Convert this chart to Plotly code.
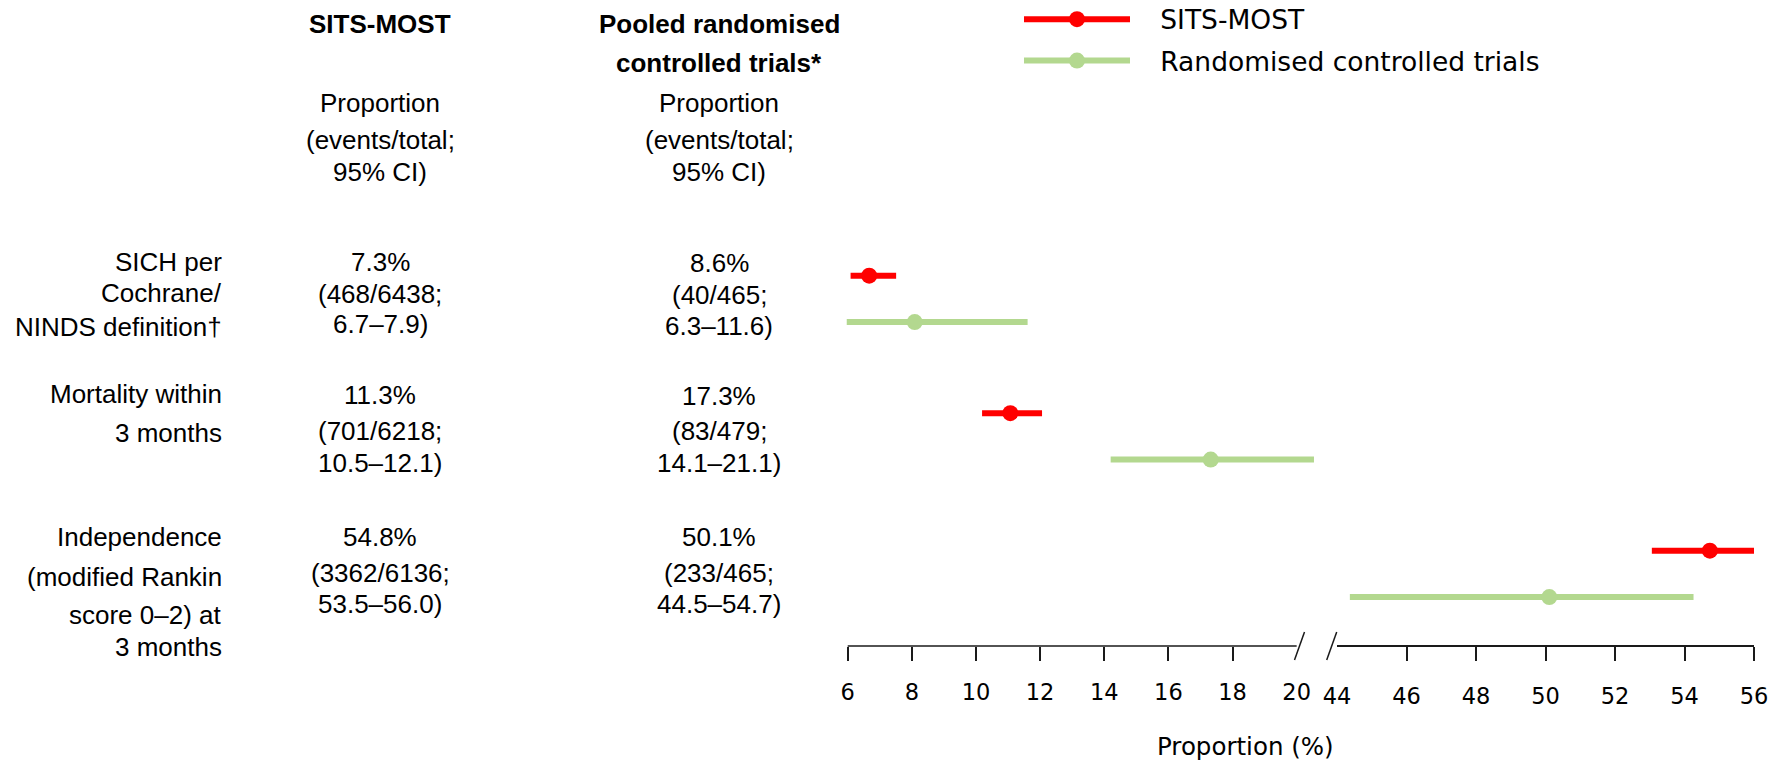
import plotly.graph_objects as go

W, H = 1782, 762

# ---------------- data ----------------
row_labels = [
    ["SICH per", "Cochrane/", "NINDS definition†"],
    ["Mortality within", "3 months"],
    ["Independence", "(modified Rankin", "score 0–2) at", "3 months"],
]
sits_pct = ["7.3%", "11.3%", "54.8%"]
sits_counts = ["(468/6438;", "(701/6218;", "(3362/6136;"]
sits_ci_text = ["6.7–7.9)", "10.5–12.1)", "53.5–56.0)"]
rct_pct = ["8.6%", "17.3%", "50.1%"]
rct_counts = ["(40/465;", "(83/479;", "(233/465;"]
rct_ci_text = ["6.3–11.6)", "14.1–21.1)", "44.5–54.7)"]

# values as drawn in the figure (point estimate and 95% CI, %)
sits_est = [6.67, 11.07, 54.73]
sits_lo = [6.09, 10.19, 53.06]
sits_hi = [7.51, 12.06, 56.00]
rct_est = [8.09, 17.32, 50.11]
rct_lo = [5.97, 14.20, 44.37]
rct_hi = [11.61, 20.54, 54.26]

# which segment of the broken axis each outcome lives on
outcome_axis = ["x", "x", "x2"]

ticks_left = [6, 8, 10, 12, 14, 16, 18, 20]
ticks_right = [44, 46, 48, 50, 52, 54, 56]

header_sits = ["SITS-MOST"]
header_rct = ["Pooled randomised", "controlled trials*"]
subheader = ["Proportion", "(events/total;", "95% CI)"]

series_names = ["SITS-MOST", "Randomised controlled trials"]

RED = "#FF0000"
GREEN = "#B3D88F"
SERIES_OFFSET = 0.337
LEGEND_PAD = "\u00a0\u00a0\u00a0"

# ---------------- figure ----------------
fig = go.Figure()

series = [
    (series_names[0], sits_est, sits_lo, sits_hi, RED, 0.0),
    (series_names[1], rct_est, rct_lo, rct_hi, GREEN, SERIES_OFFSET),
]

for k, (name, est, lo, hi, color, off) in enumerate(series):
    for ax in ["x", "x2"]:
        idx = [i for i, a in enumerate(outcome_axis) if a == ax]
        cx, cy, px, py = [], [], [], []
        for i in idx:
            cx += [lo[i], hi[i], None]
            cy += [i + off, i + off, None]
            px += [est[i], None]
            py += [i + off, None]
        fig.add_trace(go.Scatter(
            x=cx, y=cy, xaxis=ax, yaxis="y", mode="lines",
            line=dict(color=color, width=6), showlegend=False,
            hoverinfo="skip", connectgaps=False))
        fig.add_trace(go.Scatter(
            x=px, y=py, xaxis=ax, yaxis="y", mode="lines+markers",
            line=dict(color=color, width=6),
            marker=dict(color=color, size=16),
            name=LEGEND_PAD + name, legendgroup="g%d" % k, connectgaps=False,
            showlegend=(ax == "x")))

def px2x(p):
    return p / W

def px2y(p):
    return 1 - p / H

axis_y = px2y(646)

annotations = []

def add_text(xp, yp, text, xanchor="center", bold=False, size=26,
             family="Liberation Sans, Arial, sans-serif"):
    annotations.append(dict(
        x=px2x(xp), y=px2y(yp), xref="paper", yref="paper",
        text=("<b>%s</b>" % text) if bold else text,
        showarrow=False, xanchor=xanchor, yanchor="middle",
        font=dict(family=family, size=size, color="#000000")))

# headers
SITS_X, RCT_X, LABEL_X = 380, 719, 224
add_text(SITS_X, 24, header_sits[0], bold=True)
add_text(RCT_X, 24, header_rct[0], bold=True)
add_text(RCT_X, 63, header_rct[1], bold=True)
for xc in (SITS_X, RCT_X):
    for t, yp in zip(subheader, [103, 140, 172]):
        add_text(xc, yp, t)

# row label lines
label_ys = [[262, 293, 327], [394, 433], [537, 577, 615, 647]]
for lines, ys in zip(row_labels, label_ys):
    for t, yp in zip(lines, ys):
        add_text(LABEL_X, yp, t, xanchor="right")

sits_ys = [[262, 294, 324], [395, 431, 463], [537, 573, 604]]
rct_ys = [[263, 295, 326], [396, 431, 463], [537, 573, 604]]
for i in range(3):
    for t, yp in zip([sits_pct[i], sits_counts[i], sits_ci_text[i]], sits_ys[i]):
        add_text(SITS_X, yp, t)
    for t, yp in zip([rct_pct[i], rct_counts[i], rct_ci_text[i]], rct_ys[i]):
        add_text(RCT_X, yp, t)

# axis title
add_text(1245, 746, "Proportion (%)", size=24.5, family="DejaVu Sans, Verdana, sans-serif")

AXIS_COLOR = "#1a1a1a"
tickfont = dict(family="DejaVu Sans, Verdana, sans-serif", size=22.5, color="#000000")

shapes = [
    # left axis segment baseline
    dict(type="line", xref="x", yref="paper", x0=ticks_left[0], x1=ticks_left[-1],
         y0=axis_y, y1=axis_y, line=dict(color=AXIS_COLOR, width=1.5)),
    # break marks
    dict(type="line", xref="paper", yref="paper", x0=px2x(1294.5), x1=px2x(1304.5),
         y0=px2y(660), y1=px2y(632), line=dict(color=AXIS_COLOR, width=1.5)),
    dict(type="line", xref="paper", yref="paper", x0=px2x(1326.7), x1=px2x(1336.7),
         y0=px2y(660), y1=px2y(632), line=dict(color=AXIS_COLOR, width=1.5)),
]

fig.update_layout(
    width=W, height=H, autosize=False,
    margin=dict(l=0, r=0, t=0, b=0, pad=0, autoexpand=False),
    paper_bgcolor="white", plot_bgcolor="white",
    xaxis=dict(
        domain=[px2x(844.5), px2x(1315.9)], range=[5.9, 20.6],
        anchor="free", position=axis_y, side="bottom", automargin=False,
        showline=False, showgrid=False, zeroline=False,
        tickmode="array", tickvals=ticks_left, ticktext=[str(t) for t in ticks_left],
        ticks="", tickfont=tickfont, ticklabelstandoff=30,
        minor=dict(tickmode="array", tickvals=ticks_left[:-1], ticks="outside",
                   ticklen=14, tickwidth=1.5, tickcolor=AXIS_COLOR, showgrid=False),
        fixedrange=True,
    ),
    xaxis2=dict(
        domain=[px2x(1337), px2x(1754)], range=[44, 56],
        anchor="free", position=axis_y, side="bottom", automargin=False,
        showline=True, linecolor=AXIS_COLOR, linewidth=1.5,
        showgrid=False, zeroline=False,
        tickmode="array", tickvals=ticks_right, ticktext=[str(t) for t in ticks_right],
        ticks="", tickfont=tickfont, ticklabelstandoff=30,
        minor=dict(tickmode="array", tickvals=ticks_right[1:], ticks="outside",
                   ticklen=14, tickwidth=1.5, tickcolor=AXIS_COLOR, showgrid=False),
        fixedrange=True,
    ),
    yaxis=dict(domain=[0, 1], range=[(H - 275.7) / 137.5, -275.7 / 137.5],
               visible=False, fixedrange=True),
    legend=dict(
        x=px2x(1019), y=1.006, xanchor="left", yanchor="top",
        font=dict(family="DejaVu Sans, Verdana, sans-serif", size=26.5, color="#000000"),
        itemwidth=106, tracegroupgap=4, bgcolor="rgba(0,0,0,0)",
    ),
    annotations=annotations,
    shapes=shapes,
)

fig.write_html(
    "out.html",
    config={"responsive": False, "displayModeBar": False},
    post_script="document.body.style.margin='0';document.body.style.overflow='hidden';",
)
